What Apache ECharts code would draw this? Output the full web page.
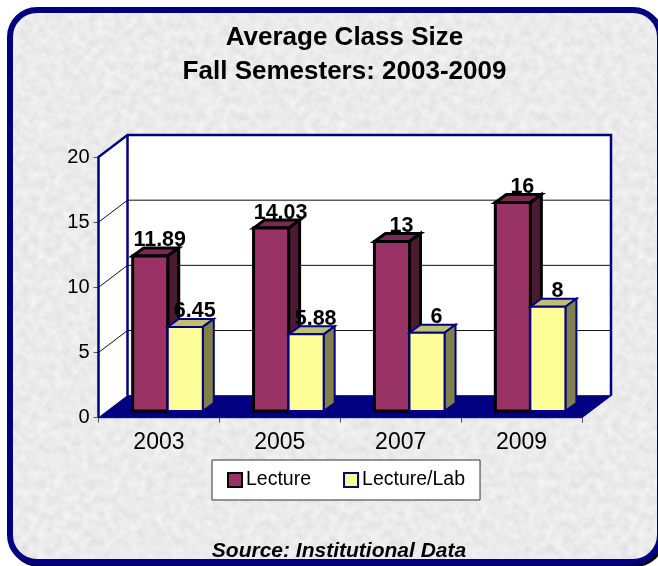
<!DOCTYPE html>
<html>
<head>
<meta charset="utf-8">
<title>Average Class Size</title>
<style>
  html, body { margin: 0; padding: 0; width: 658px; height: 566px; overflow: hidden; background: #fff; }
  .frame {
    position: absolute; left: 7px; top: 7px; width: 656px; height: 558px;
    box-sizing: border-box; border: 6px solid #000080; border-radius: 30px;
    box-shadow: 2px 2px 0 #000;
    background-color: #e4e4e4;
    background-image: url("data:image/svg+xml,%3Csvg xmlns='http://www.w3.org/2000/svg' width='300' height='300'%3E%3Cfilter id='n' x='0' y='0' width='100%25' height='100%25'%3E%3CfeTurbulence type='fractalNoise' baseFrequency='0.12' numOctaves='4' seed='7' stitchTiles='stitch'/%3E%3CfeColorMatrix values='0.22 0 0 0 0.72 0.22 0 0 0 0.72 0.22 0 0 0 0.72 0 0 0 0 1'/%3E%3C/filter%3E%3Crect width='300' height='300' filter='url(%23n)'/%3E%3C/svg%3E");
  }
  #main { position: absolute; left: 0; top: 0; width: 658px; height: 566px; }
</style>
</head>
<body>
<div class="frame"></div>
<div id="main"></div>
<script src="https://cdn.jsdelivr.net/npm/echarts@6/dist/echarts.min.js"></script>
<script>
const years = ['2003', '2005', '2007', '2009']
const lecture = [11.89, 14.03, 13, 16]
const lectureLab = [6.45, 5.88, 6, 8]
const gridValues = [5, 10, 15]
const yMax = 20

// 3d look, in pixels
const wallX = 29
const wallY = 22
const barDepthX = 11
const barDepthY = 8
const barOffsetX = 8.8
const barOffsetY = 6.7
const barRatio = 0.29

const chart = echarts.init(document.getElementById('main'))

// walls and floor behind the bars
const renderBox = (params, api) => {
  const x0 = api.coord([0, 0])[0] - api.size([1, 0])[0] / 2
  const x1 = api.coord([years.length - 1, 0])[0] + api.size([1, 0])[0] / 2
  const y0 = api.coord([0, 0])[1]
  const yTop = api.coord([0, yMax])[1]
  const navy = { stroke: '#000080', lineWidth: 2.5, fill: null }
  const children = [
    { type: 'polygon', shape: { points: [[x0, yTop], [x0 + wallX, yTop - wallY], [x1 + wallX, yTop - wallY], [x1 + wallX, y0 - wallY], [x0 + wallX, y0 - wallY], [x0, y0]] }, style: { fill: '#fff' } },
    { type: 'polygon', shape: { points: [[x0, y0], [x0 + wallX, y0 - wallY], [x1 + wallX, y0 - wallY], [x1, y0]] }, style: { fill: '#000080', stroke: '#000080', lineWidth: 1 } }
  ]
  gridValues.forEach(v => {
    const y = api.coord([0, v])[1]
    children.push({ type: 'polyline', shape: { points: [[x0, y], [x0 + wallX, y - wallY], [x1 + wallX, y - wallY]] }, style: { stroke: '#111', lineWidth: 1, fill: null } })
  })
  children.push({ type: 'polyline', shape: { points: [[x0, y0], [x0, yTop], [x0 + wallX, yTop - wallY], [x1 + wallX, yTop - wallY], [x1 + wallX, y0 - wallY]] }, style: navy })
  children.push({ type: 'line', shape: { x1: x0 + wallX, y1: yTop - wallY, x2: x0 + wallX, y2: y0 - wallY }, style: navy })
  return { type: 'group', children }
}

// one 3d bar: top, side, front, then the value on top
const makeBar = (colors, leftSide) => (params, api) => {
  const idx = api.value(0)
  const val = api.value(1)
  const center = api.coord([idx, 0])[0]
  const w = api.size([1, 0])[0] * barRatio
  const xl = center + barOffsetX - (leftSide ? w : 0)
  const xr = xl + w
  const yb = api.coord([idx, 0])[1] - barOffsetY
  const yt = api.coord([idx, val])[1] - barOffsetY
  const line = { stroke: colors.line, lineWidth: colors.width, lineJoin: 'miter' }
  return {
    type: 'group',
    children: [
      { type: 'polygon', shape: { points: [[xl, yt], [xl + barDepthX, yt - barDepthY], [xr + barDepthX, yt - barDepthY], [xr, yt]] }, style: { fill: colors.top, ...line } },
      { type: 'polygon', shape: { points: [[xr, yt], [xr + barDepthX, yt - barDepthY], [xr + barDepthX, yb - barDepthY], [xr, yb]] }, style: { fill: colors.side, ...line } },
      { type: 'rect', shape: { x: xl, y: yt, width: w, height: yb - yt }, style: { fill: colors.front, ...line } },
      { type: 'text', x: (xl + xr) / 2 + 9.5, y: yt - 4.5, style: { text: String(val), fill: '#000', font: 'bold 21.5px "Liberation Sans", Arial, sans-serif', align: 'center', verticalAlign: 'bottom' } }
    ]
  }
}

const lectureColors = { front: '#993366', top: '#7a2952', side: '#4d1a33', line: '#000', width: 3 }
const labColors = { front: '#ffff99', top: '#bfbf73', side: '#80804d', line: '#000080', width: 2 }

const option = {
  animation: false,
  textStyle: { fontFamily: '"Liberation Sans", Arial, sans-serif' },
  title: [
    {
      text: 'Average Class Size\nFall Semesters: 2003-2009',
      left: 339.5,
      top: 16,
      textAlign: 'center',
      textStyle: { color: '#000', fontSize: 26, fontWeight: 'bold', lineHeight: 34 }
    },
    {
      text: 'Source: Institutional Data',
      left: 334,
      top: 536,
      textAlign: 'center',
      textStyle: { color: '#000', fontSize: 21, fontWeight: 'bold', fontStyle: 'italic' }
    }
  ],
  legend: {
    data: ['Lecture', 'Lecture/Lab'],
    left: 212,
    top: 460,
    orient: 'horizontal',
    backgroundColor: '#fff',
    borderColor: '#333',
    borderWidth: 1,
    borderRadius: 0,
    padding: [10, 15, 10, 15],
    itemWidth: 14,
    itemHeight: 14,
    itemGap: 32,
    icon: 'rect',
    textStyle: { color: '#000', fontSize: 19.5, padding: [0, 0, 0, -1] }
  },
  grid: { left: 98.5, right: 76, top: 157, bottom: 148.3 },
  xAxis: {
    type: 'category',
    data: years,
    axisLine: { show: false },
    axisTick: { show: true, length: 5, lineStyle: { color: '#555' } },
    axisLabel: { color: '#000', fontSize: 23, margin: 13 },
    splitLine: { show: false }
  },
  yAxis: {
    type: 'value',
    min: 0,
    max: yMax,
    interval: 5,
    axisLine: { show: false },
    axisTick: { show: true, length: 5, lineStyle: { color: '#555' } },
    axisLabel: { color: '#000', fontSize: 20, margin: 9 },
    splitLine: { show: false }
  },
  series: [
    { name: 'box', type: 'custom', clip: false, silent: true, z: 1, renderItem: renderBox, data: [[0, 0]], encode: { x: 0, y: 1 } },
    {
      name: 'Lecture',
      type: 'custom',
      clip: false,
      z: 2,
      renderItem: makeBar(lectureColors, true),
      itemStyle: { color: lectureColors.front, borderColor: '#000', borderWidth: 2.5 },
      data: lecture.map((v, i) => [i, v]),
      encode: { x: 0, y: 1 }
    },
    {
      name: 'Lecture/Lab',
      type: 'custom',
      clip: false,
      z: 3,
      renderItem: makeBar(labColors, false),
      itemStyle: { color: labColors.front, borderColor: '#000080', borderWidth: 2.5 },
      data: lectureLab.map((v, i) => [i, v]),
      encode: { x: 0, y: 1 }
    }
  ]
}
chart.setOption(option)
</script>
</body>
</html>
